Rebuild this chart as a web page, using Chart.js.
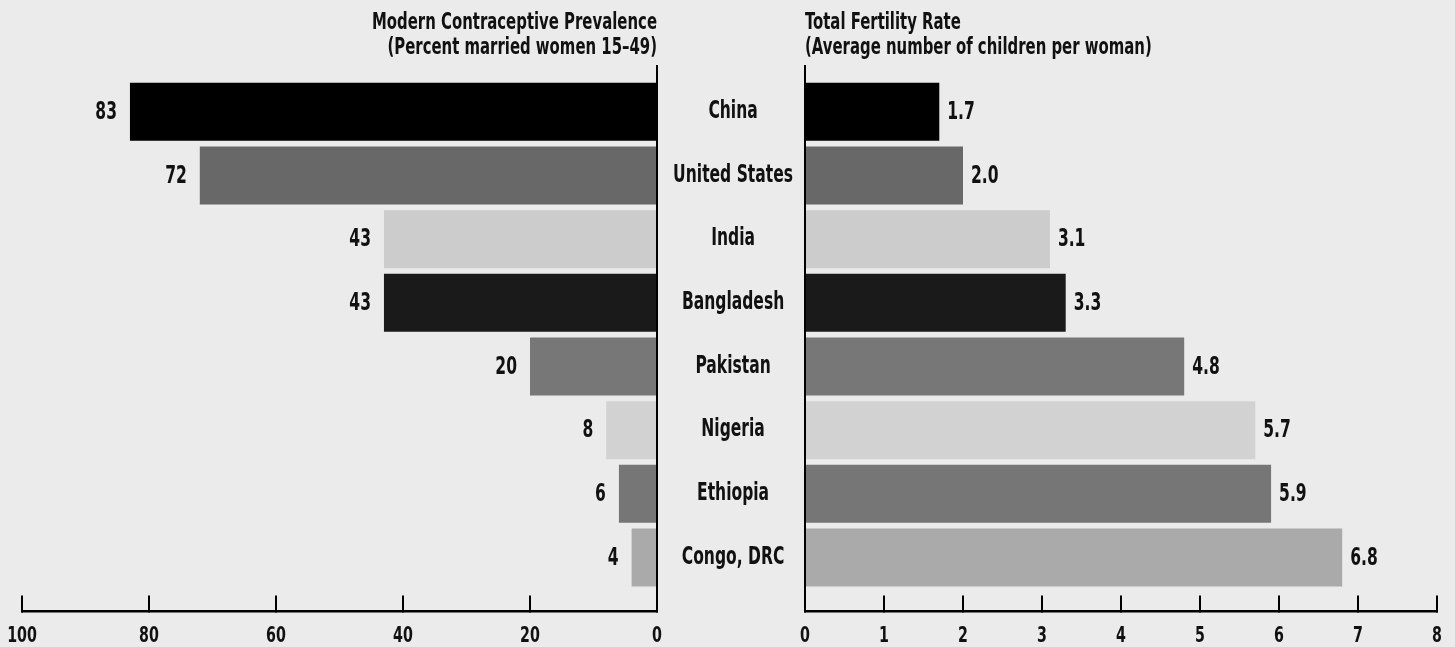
<!DOCTYPE html>
<html>
<head>
<meta charset="utf-8">
<script src="https://cdn.jsdelivr.net/npm/chart.js@4.4.1/dist/chart.umd.min.js"></script>
<style>
  html, body { margin: 0; padding: 0; background: #ebebeb; width: 1455px; height: 647px; overflow: hidden; }
  #wrap { position: relative; width: 1455px; height: 647px; }
  canvas { position: absolute; top: 0; }
  #left { left: 0; }
  #right { left: 660px; }
</style>
</head>
<body>
<div id="wrap">
  <canvas id="left" width="700" height="676"></canvas>
  <canvas id="right" width="795" height="676"></canvas>
</div>
<script>
const countries = ['China', 'United States', 'India', 'Bangladesh', 'Pakistan', 'Nigeria', 'Ethiopia', 'Congo, DRC'];
const contraceptive = [83, 72, 43, 43, 20, 8, 6, 4];
const fertility = [1.7, 2.0, 3.1, 3.3, 4.8, 5.7, 5.9, 6.8];
const barColors = ['#000000', '#686868', '#cccccc', '#1a1a1a', '#777777', '#d2d2d2', '#767676', '#aaaaaa'];
const leftTitle = ['Modern Contraceptive Prevalence', '(Percent married women 15\u201349)'];
const rightTitle = ['Total Fertility Rate', '(Average number of children per woman)'];

const FONT = "'DejaVu Sans Condensed', 'DejaVu Sans', sans-serif";
const INK = '#111111';
const NARROW = 0.72; // horizontal squeeze for a tall, compressed lettering

Chart.defaults.font.family = FONT;
Chart.defaults.color = INK;

// Row positions along the (reversed) index axis
const rowMin = -0.72;
const rowMax = 7.85;

// Compress all text drawn on a context horizontally, around its anchor point
function narrowContext(canvas, k) {
  const ctx = canvas.getContext('2d');
  const fill = ctx.fillText.bind(ctx);
  const measure = ctx.measureText.bind(ctx);
  ctx.fillText = function (text, x, y) {
    ctx.save();
    ctx.translate(x, y);
    ctx.scale(k, 1);
    fill(text, 0, 0);
    ctx.restore();
  };
  ctx.measureText = function (text) {
    const m = measure(text);
    return {
      width: m.width * k,
      actualBoundingBoxLeft: m.actualBoundingBoxLeft * k,
      actualBoundingBoxRight: m.actualBoundingBoxRight * k,
      actualBoundingBoxAscent: m.actualBoundingBoxAscent,
      actualBoundingBoxDescent: m.actualBoundingBoxDescent,
      fontBoundingBoxAscent: m.fontBoundingBoxAscent,
      fontBoundingBoxDescent: m.fontBoundingBoxDescent
    };
  };
  return ctx;
}

function points(values) {
  return values.map((v, i) => ({ x: v, y: i }));
}

const rowTicks = scale => {
  scale.ticks = countries.map((_, i) => ({ value: i }));
};

// Writes each bar's value just past its end
function valueLabels(side, fmt) {
  return {
    id: 'valueLabels',
    afterDatasetsDraw(chart) {
      const ctx = chart.ctx;
      const meta = chart.getDatasetMeta(0);
      const data = chart.data.datasets[0].data;
      ctx.save();
      ctx.font = "bold 24px " + FONT;
      ctx.fillStyle = INK;
      ctx.textBaseline = 'middle';
      meta.data.forEach((bar, i) => {
        const v = data[i].x;
        if (side === 'left') {
          ctx.textAlign = 'right';
          ctx.fillText(fmt(v), bar.x - 13, bar.y + 1);
        } else {
          ctx.textAlign = 'left';
          ctx.fillText(fmt(v), bar.x + 8, bar.y + 1);
        }
      });
      ctx.restore();
    }
  };
}

function titleOpts(text, align) {
  return {
    display: true,
    text: text,
    align: align,
    fullSize: false,
    color: INK,
    font: { family: FONT, size: 23, weight: 'bold', lineHeight: 1.087 },
    padding: { top: 11, bottom: 5 }
  };
}

function xAxis(max, step, reverse) {
  return {
    type: 'linear',
    position: 'bottom',
    min: 0,
    max: max,
    reverse: reverse,
    // the end labels fit inside the layout padding, so no extra side room
    afterFit: scale => { scale.paddingLeft = 0; scale.paddingRight = 0; },
    ticks: {
      stepSize: step,
      color: INK,
      padding: 27,
      font: { family: FONT, size: 22, weight: 'bold' }
    },
    grid: {
      drawOnChartArea: false,
      drawTicks: true,
      tickLength: -16,
      color: '#000000',
      lineWidth: 2
    },
    border: { display: true, color: '#000000', width: 2.5 }
  };
}

// Left panel: contraceptive prevalence, bars growing leftwards from 0
new Chart(narrowContext(document.getElementById('left'), NARROW), {
  type: 'bar',
  data: {
    datasets: [{
      data: points(contraceptive),
      backgroundColor: barColors,
      borderWidth: 0,
      categoryPercentage: 1,
      barPercentage: 0.91
    }]
  },
  options: {
    indexAxis: 'y',
    responsive: false,
    animation: false,
    devicePixelRatio: 1,
    layout: { padding: { left: 22, right: 43, top: 0, bottom: 0 } },
    plugins: {
      legend: { display: false },
      tooltip: { enabled: false },
      title: titleOpts(leftTitle, 'end')
    },
    scales: {
      x: xAxis(100, 20, true),
      y: {
        type: 'linear',
        position: 'right',
        reverse: true,
        offset: false,
        min: rowMin,
        max: rowMax,
        afterBuildTicks: rowTicks,
        ticks: { display: false },
        grid: { display: false, drawTicks: false, offset: false },
        border: { display: true, color: '#000000', width: 2 }
      }
    }
  },
  plugins: [valueLabels('left', v => String(v))]
});

// Right panel: total fertility rate, with the country names on its axis
new Chart(narrowContext(document.getElementById('right'), NARROW), {
  type: 'bar',
  data: {
    datasets: [{
      data: points(fertility),
      backgroundColor: barColors,
      borderWidth: 0,
      categoryPercentage: 1,
      barPercentage: 0.91
    }]
  },
  options: {
    indexAxis: 'y',
    responsive: false,
    animation: false,
    devicePixelRatio: 1,
    layout: { padding: { left: 0, right: 18, top: 0, bottom: 0 } },
    plugins: {
      legend: { display: false },
      tooltip: { enabled: false },
      title: titleOpts(rightTitle, 'start')
    },
    scales: {
      x: xAxis(8, 1, false),
      y: {
        type: 'linear',
        position: 'left',
        reverse: true,
        offset: false,
        min: rowMin,
        max: rowMax,
        afterBuildTicks: rowTicks,
        afterFit: scale => { scale.width = 145; },
        ticks: {
          display: true,
          autoSkip: false,
          crossAlign: 'center',
          padding: 12,
          color: INK,
          font: { family: FONT, size: 24, weight: 'bold' },
          callback: value => countries[value]
        },
        grid: { display: false, drawTicks: false, offset: false },
        border: { display: true, color: '#000000', width: 2 }
      }
    }
  },
  plugins: [valueLabels('right', v => v.toFixed(1))]
});
</script>
</body>
</html>
